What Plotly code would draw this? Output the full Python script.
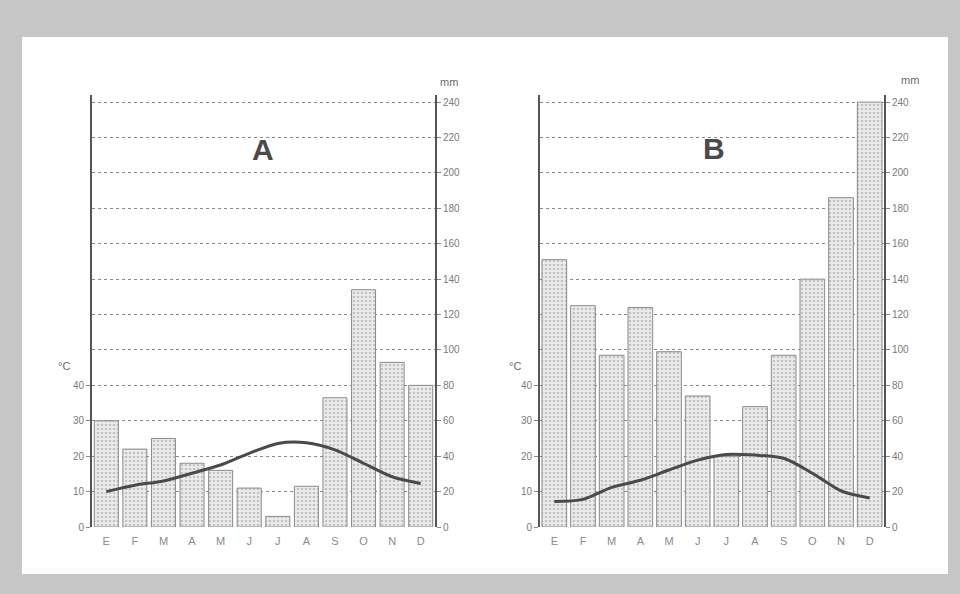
import plotly.graph_objects as go

months = ["E", "F", "M", "A", "M", "J", "J", "A", "S", "O", "N", "D"]
precip_a = [60, 44, 50, 36, 32, 22, 6, 23, 73, 134, 93, 80]
temp_a = [10, 11.8, 13, 15.2, 17.5, 20.8, 23.6, 23.8, 21.8, 18, 14.2, 12.3]
precip_b = [151, 125, 97, 124, 99, 74, 40, 68, 97, 140, 186, 240]
temp_b = [7.2, 7.8, 11.2, 13.2, 16.1, 18.9, 20.5, 20.3, 19.4, 15.2, 10.2, 8.2]
temp_ticks = [0, 10, 20, 30, 40]
precip_ticks = list(range(0, 241, 20))

W, H = 960, 594
H_EFF = 588
x_idx = list(range(len(months)))

fig = go.Figure()

bar_style = dict(
    color="#e2e2e2",
    line=dict(color="#8a8a8a", width=1),
    pattern=dict(shape=".", fgcolor="#9a9a9a", bgcolor="#ececec", size=4, solidity=0.35),
)
line_style = dict(color="#4a4a4a", width=3, shape="spline", smoothing=0.8)

fig.add_trace(go.Bar(x=x_idx, y=precip_a, marker=bar_style, width=0.84,
                     xaxis="x", yaxis="y", showlegend=False))
fig.add_trace(go.Scatter(x=x_idx, y=temp_a, mode="lines", line=line_style,
                         xaxis="x", yaxis="y2", showlegend=False))
fig.add_trace(go.Bar(x=x_idx, y=precip_b, marker=bar_style, width=0.86,
                     xaxis="x2", yaxis="y3", showlegend=False))
fig.add_trace(go.Scatter(x=x_idx, y=temp_b, mode="lines", line=line_style,
                         xaxis="x2", yaxis="y4", showlegend=False))

def px(x):
    return x / W

def py(y):
    return max(0.0, 1 - y / H_EFF)

ydom = [py(527), py(95)]
tick_font = dict(family="Liberation Sans, Arial, sans-serif", size=10, color="#7a7a7a")

xcommon = dict(
    range=[-0.5, 11.5], tickvals=x_idx, ticktext=months, showgrid=False,
    zeroline=False, showline=False, ticks="", ticklabelstandoff=6,
    tickfont=dict(family="Liberation Sans, Arial, sans-serif", size=11, color="#8a8a8a"),
    fixedrange=True,
)
precip_common = dict(
    range=[0, 244], tickvals=precip_ticks, side="right", showgrid=True,
    gridcolor="#8a8a8a", griddash="dot", gridwidth=1, zeroline=False,
    showline=True, linecolor="#555", linewidth=2, ticks="outside", ticklen=4,
    tickcolor="#888", tickfont=tick_font, domain=ydom,
)
temp_common = dict(
    range=[0, 122], tickvals=temp_ticks, side="left", showgrid=False,
    zeroline=False, showline=True, linecolor="#555", linewidth=2,
    ticks="outside", ticklen=4, tickcolor="#888", tickfont=tick_font,
)

def label(text, x, y, size, color):
    return dict(text=text, x=px(x), y=py(y), xref="paper", yref="paper",
                xanchor="center", yanchor="middle", showarrow=False,
                font=dict(family="Liberation Sans, Arial", size=size, color=color))

fig.update_layout(
    width=W, height=H,
    margin=dict(l=0, r=0, t=0, b=0),
    paper_bgcolor="#c6c6c6",
    plot_bgcolor="rgba(0,0,0,0)",
    bargap=0.1,
    xaxis=dict(domain=[px(92), px(435)], anchor="y", **xcommon),
    yaxis=dict(anchor="x", **precip_common),
    yaxis2=dict(anchor="x", overlaying="y", **temp_common),
    xaxis2=dict(domain=[px(540), px(884)], anchor="y3", **xcommon),
    yaxis3=dict(anchor="x2", **precip_common),
    yaxis4=dict(anchor="x2", overlaying="y3", **temp_common),
    shapes=[
        dict(type="rect", xref="paper", yref="paper", x0=px(22), x1=px(948),
             y0=py(574), y1=py(37), fillcolor="white", line=dict(width=0), layer="below"),
    ],
    annotations=[
        label("<b>A</b>", 263, 150, 30, "#4a4a4a"),
        label("<b>B</b>", 714, 148, 30, "#4a4a4a"),
        label("mm", 449, 82, 11, "#6a6a6a"),
        label("mm", 910, 80, 11, "#6a6a6a"),
        label("°C", 64, 366, 11, "#6a6a6a"),
        label("°C", 515, 366, 11, "#6a6a6a"),
    ],
)

fig.write_html(
    "out.html",
    config={"displayModeBar": False},
    post_script="document.body.style.margin='0';document.body.style.overflow='hidden';",
)
